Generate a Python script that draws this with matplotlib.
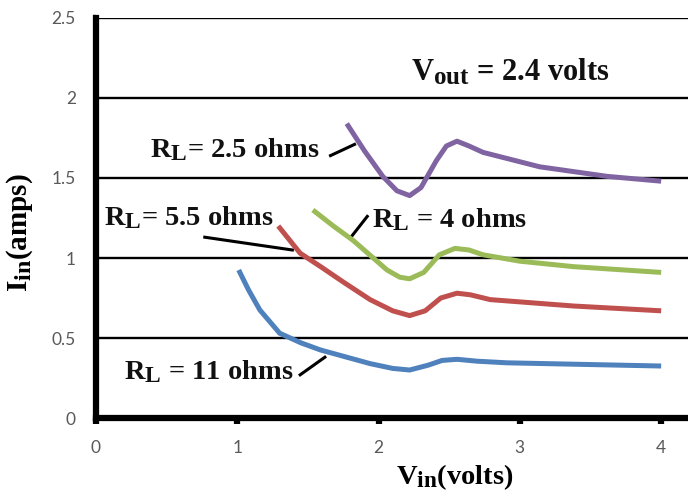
import matplotlib
matplotlib.use("Agg")
import matplotlib.pyplot as plt
import matplotlib._mathtext as mt

plt.rcParams['mathtext.fontset'] = 'custom'
plt.rcParams['mathtext.rm'] = 'Liberation Serif:bold'
plt.rcParams['mathtext.it'] = 'Liberation Serif:bold'
plt.rcParams['mathtext.bf'] = 'Liberation Serif:bold'
mt.SHRINK_FACTOR = 0.82  # subscripts in the original are nearly full size

# values
x_25 = [1.775, 1.9, 2.03, 2.13, 2.22, 2.3, 2.41, 2.48, 2.555, 2.64, 2.74, 3.14, 3.62, 4.0]
y_25 = [1.84, 1.67, 1.51, 1.42, 1.39, 1.44, 1.61, 1.70, 1.73, 1.70, 1.66, 1.57, 1.51, 1.48]

x_4 = [1.535, 1.68, 1.82, 2.06, 2.15, 2.22, 2.32, 2.43, 2.54, 2.64, 2.74, 3.0, 3.38, 4.0]
y_4 = [1.30, 1.20, 1.11, 0.925, 0.88, 0.87, 0.91, 1.02, 1.06, 1.05, 1.02, 0.98, 0.946, 0.91]

x_55 = [1.29, 1.445, 1.59, 1.75, 1.94, 2.1, 2.22, 2.33, 2.44, 2.555, 2.65, 2.79, 3.38, 4.0]
y_55 = [1.20, 1.03, 0.946, 0.85, 0.74, 0.67, 0.64, 0.67, 0.75, 0.78, 0.77, 0.74, 0.70, 0.67]

x_11 = [1.01, 1.08, 1.16, 1.30, 1.45, 1.59, 1.94, 2.1, 2.22, 2.35, 2.45, 2.555, 2.7, 2.91, 4.0]
y_11 = [0.925, 0.80, 0.675, 0.53, 0.47, 0.425, 0.34, 0.31, 0.30, 0.33, 0.36, 0.367, 0.355, 0.345, 0.325]

fig = plt.figure(figsize=(6.88, 4.94), dpi=100)
ax = fig.add_axes([0.1395, 0.1538, 0.8605, 0.8098])

for v in [0.5, 1, 1.5, 2, 2.5]:
    ax.axhline(v, color='black', lw=1.7, zorder=1)

lw = 3.6
ax.plot(x_25, y_25, color='#8064A2', lw=lw, solid_capstyle='butt', solid_joinstyle='round', zorder=3)
ax.plot(x_4, y_4, color='#9BBB59', lw=lw, solid_capstyle='butt', solid_joinstyle='round', zorder=3)
ax.plot(x_55, y_55, color='#C0504D', lw=lw, solid_capstyle='butt', solid_joinstyle='round', zorder=3)
ax.plot(x_11, y_11, color='#4F81BD', lw=lw, solid_capstyle='butt', solid_joinstyle='round', zorder=3)

ax.set_xlim(0, 4.19)
ax.set_ylim(0, 2.5)
ax.set_xticks([0, 1, 2, 3, 4])
ax.set_yticks([0, 0.5, 1, 1.5, 2, 2.5])
ax.set_yticklabels(['0', '0.5', '1', '1.5', '2', '2.5'])

for s in ['top', 'right']:
    ax.spines[s].set_visible(False)
ax.spines['left'].set_linewidth(4.5)
ax.spines['bottom'].set_linewidth(4.5)
ax.tick_params(axis='both', direction='out', width=4.5, color='black',
               labelsize=12.5, labelcolor='#595959')
ax.tick_params(axis='x', length=4, pad=12)
ax.tick_params(axis='y', length=2.5, pad=12)
for lab in ax.get_xticklabels() + ax.get_yticklabels():
    lab.set_family('Lato')

tf = dict(fontweight='bold', family='Liberation Serif', color='#111111')
ax.text(2.23, 2.16, r'$\mathrm{V_{out}}$ = 2.4 volts', va='center', ha='left', fontsize=22, **tf)
ax.text(0.38, 1.675, r'$\mathrm{R_L}$= 2.5 ohms', va='center', ha='left', fontsize=20.5, **tf)
ax.text(0.06, 1.25, r'$\mathrm{R_L}$= 5.5 ohms', va='center', ha='left', fontsize=20.5, **tf)
ax.text(1.95, 1.24, r'$\mathrm{R_L}$ = 4 ohms', va='center', ha='left', fontsize=20.5, **tf)
ax.text(0.2, 0.29, r'$\mathrm{R_L}$ = 11 ohms', va='center', ha='left', fontsize=20.5, **tf)

ax.plot([1.66, 1.83], [1.64, 1.71], color='black', lw=2.2, zorder=2)
ax.plot([0.77, 1.39], [1.13, 1.05], color='black', lw=2.2, zorder=2)
ax.plot([1.80, 1.92], [1.125, 1.26], color='black', lw=2.2, zorder=2)
ax.plot([1.445, 1.62], [0.27, 0.38], color='black', lw=2.2, zorder=2)

ax.set_xlabel(r'$\mathrm{V_{in}}$(volts)', fontsize=20.5, fontweight='bold',
              family='Liberation Serif')
ax.set_ylabel(r'$\mathrm{I_{in}}$(amps)', fontsize=21, fontweight='bold',
              family='Liberation Serif')
ax.xaxis.set_label_coords(0.606, -0.11)
ax.yaxis.set_label_coords(-0.103, 0.4625)

fig.savefig('out.png', dpi=100)
